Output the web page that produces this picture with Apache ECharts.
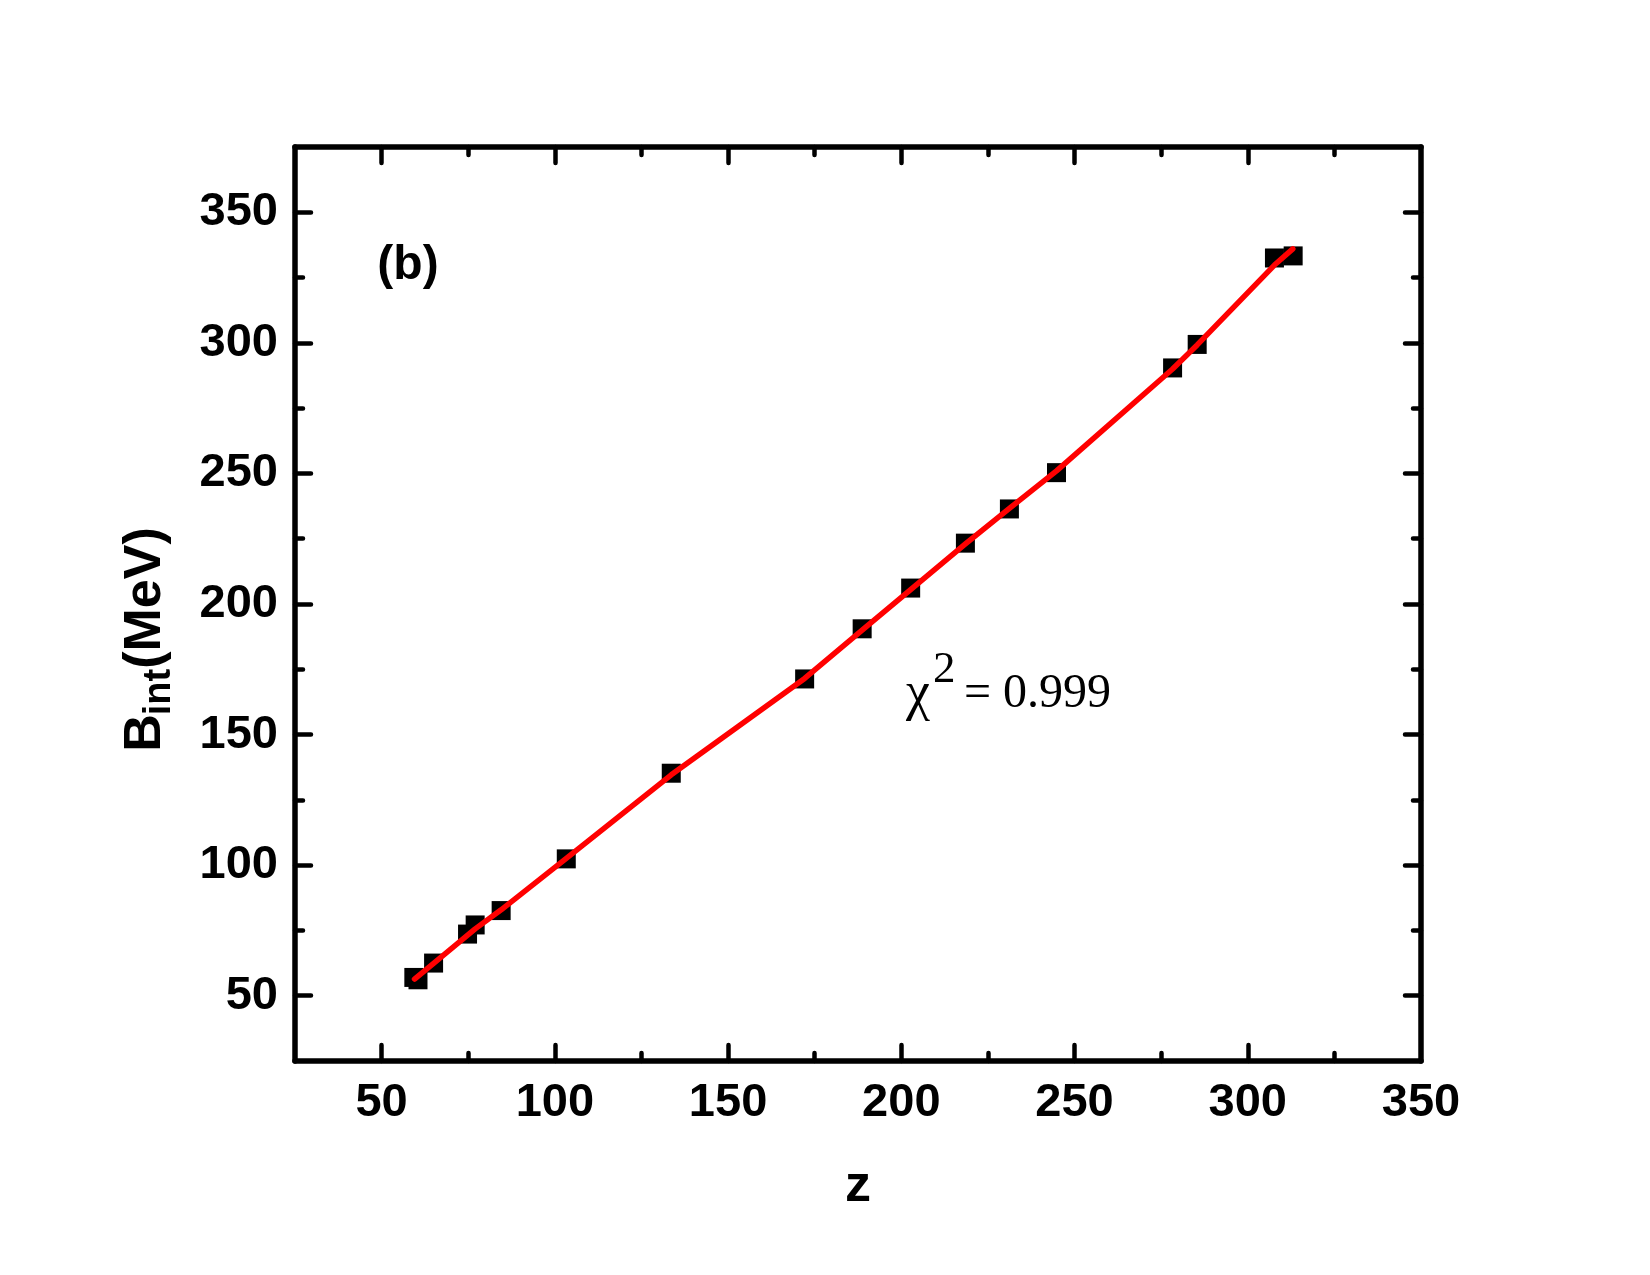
<!DOCTYPE html>
<html>
<head>
<meta charset="utf-8">
<script src="https://cdn.jsdelivr.net/npm/echarts@6/dist/echarts.min.js"></script>
<style>
html,body{margin:0;padding:0;background:#fff;}
#chart{width:1650px;height:1275px;}
</style>
</head>
<body>
<div id="chart"></div>
<script>
// Data
var zValues = [59.3, 60.5, 65.0, 74.8, 77.0, 84.5, 103.3, 133.6, 172.1, 188.7, 202.7, 218.5, 231.2, 244.8, 278.3, 285.4, 307.7, 313.1];
var bintValues = [57.0, 56.1, 62.5, 73.6, 77.1, 82.6, 102.4, 135.2, 171.3, 190.5, 206.1, 223.3, 236.4, 250.3, 290.4, 299.4, 332.5, 333.3];
var fitZ = [59.5, 65.0, 77.0, 84.5, 103.3, 133.6, 172.1, 188.7, 202.7, 218.5, 231.2, 244.8, 278.3, 285.4, 307.7, 313.0];
var fitB = [56.4, 62.4, 75.6, 82.9, 102.6, 134.6, 171.5, 190.0, 205.5, 223.0, 236.6, 251.0, 290.0, 299.2, 329.8, 336.0];
var xMajorTicks = [50, 100, 150, 200, 250, 300];
var xLabels = [50, 100, 150, 200, 250, 300, 350];
var xMinorTicks = [75, 125, 175, 225, 275, 325];
var yMajorTicks = [50, 100, 150, 200, 250, 300, 350];
var yLabels = [50, 100, 150, 200, 250, 300, 350];
var yMinorTicks = [75, 125, 175, 225, 275, 325];

var scatterData = zValues.map(function (z, i) { return [z, bintValues[i]]; });
var fitData = fitZ.map(function (z, i) { return [z, fitB[i]]; });

var chart = echarts.init(document.getElementById('chart'));
var black = '#000';
var sansFam = '"Liberation Sans", Arial, sans-serif';
var serifFam = '"Liberation Serif", "Times New Roman", serif';
var labelFont = {fontFamily: sansFam, fontWeight: 'bold', fontSize: 47, color: black};

function xAx(pos, showLine, ticks, len, labels) {
  return {
    type: 'value', position: pos, min: 25, max: 350, gridIndex: 0,
    axisLine: {show: showLine, onZero: false, lineStyle: {color: black, width: 5.5}},
    axisTick: {show: true, inside: true, length: len, customValues: ticks, lineStyle: {color: black, width: 4.5, cap: 'round'}},
    axisLabel: labels ? Object.assign({show: true, margin: 19, customValues: labels}, labelFont) : {show: false},
    splitLine: {show: false}
  };
}
function yAx(pos, showLine, ticks, len, labels) {
  return {
    type: 'value', position: pos, min: 25, max: 375, gridIndex: 0,
    axisLine: {show: showLine, onZero: false, lineStyle: {color: black, width: 5.5}},
    axisTick: {show: true, inside: true, length: len, customValues: ticks, lineStyle: {color: black, width: 4.5, cap: 'round'}},
    axisLabel: labels ? Object.assign({show: true, margin: 17, customValues: labels}, labelFont) : {show: false},
    splitLine: {show: false}
  };
}

chart.setOption({
  backgroundColor: '#fff',
  animation: false,
  grid: {left: 295, right: 229, top: 147, bottom: 214, containLabel: false},
  xAxis: [
    xAx('bottom', true, xMajorTicks, 16, xLabels),
    xAx('bottom', false, xMinorTicks, 8, null),
    xAx('top', true, xMajorTicks, 16, null),
    xAx('top', false, xMinorTicks, 8, null)
  ],
  yAxis: [
    yAx('left', true, yMajorTicks, 16, yLabels),
    yAx('left', false, yMinorTicks, 8, null),
    yAx('right', true, yMajorTicks, 16, null),
    yAx('right', false, yMinorTicks, 8, null)
  ],
  series: [
    {
      type: 'scatter', xAxisIndex: 0, yAxisIndex: 0,
      symbol: 'rect', symbolSize: 19,
      itemStyle: {color: black, opacity: 1},
      emphasis: {disabled: true},
      data: scatterData, z: 2
    },
    {
      type: 'line', xAxisIndex: 0, yAxisIndex: 0,
      showSymbol: false, symbol: 'none', smooth: false,
      lineStyle: {color: '#ff0000', width: 5.5, cap: 'round', join: 'round'},
      data: fitData, z: 3
    }
  ],
  graphic: [
    {
      type: 'text', x: 408, y: 266,
      style: {text: '(b)', fill: black, font: 'bold 48px ' + sansFam, textAlign: 'center', textVerticalAlign: 'middle'}
    },
    {
      type: 'text', x: 858, y: 1187,
      style: {text: 'z', fill: black, font: 'bold 52px ' + sansFam, textAlign: 'center', textVerticalAlign: 'middle'}
    },
    // rotated y-axis title: B, subscript int, (MeV)
    {
      type: 'text', x: 146, y: 733, rotation: Math.PI / 2,
      style: {text: 'B', fill: black, font: 'bold 52px ' + sansFam, textAlign: 'center', textVerticalAlign: 'middle'}
    },
    {
      type: 'text', x: 160, y: 692, rotation: Math.PI / 2,
      style: {text: 'int', fill: black, font: 'bold 38px ' + sansFam, textAlign: 'center', textVerticalAlign: 'middle'}
    },
    {
      type: 'text', x: 146, y: 598, rotation: Math.PI / 2,
      style: {text: '(MeV)', fill: black, font: 'bold 52px ' + sansFam, textAlign: 'center', textVerticalAlign: 'middle'}
    },
    {
      type: 'text', x: 906, y: 695,
      style: {text: '\u03c7', fill: black, font: '54px ' + serifFam, textAlign: 'left', textVerticalAlign: 'middle'}
    },
    {
      type: 'text', x: 933, y: 670,
      style: {text: '2', fill: black, font: '45px ' + serifFam, textAlign: 'left', textVerticalAlign: 'middle'}
    },
    {
      type: 'text', x: 964, y: 694,
      style: {text: '= 0.999', fill: black, font: '48px ' + serifFam, textAlign: 'left', textVerticalAlign: 'middle'}
    }
  ]
});
</script>
</body>
</html>
